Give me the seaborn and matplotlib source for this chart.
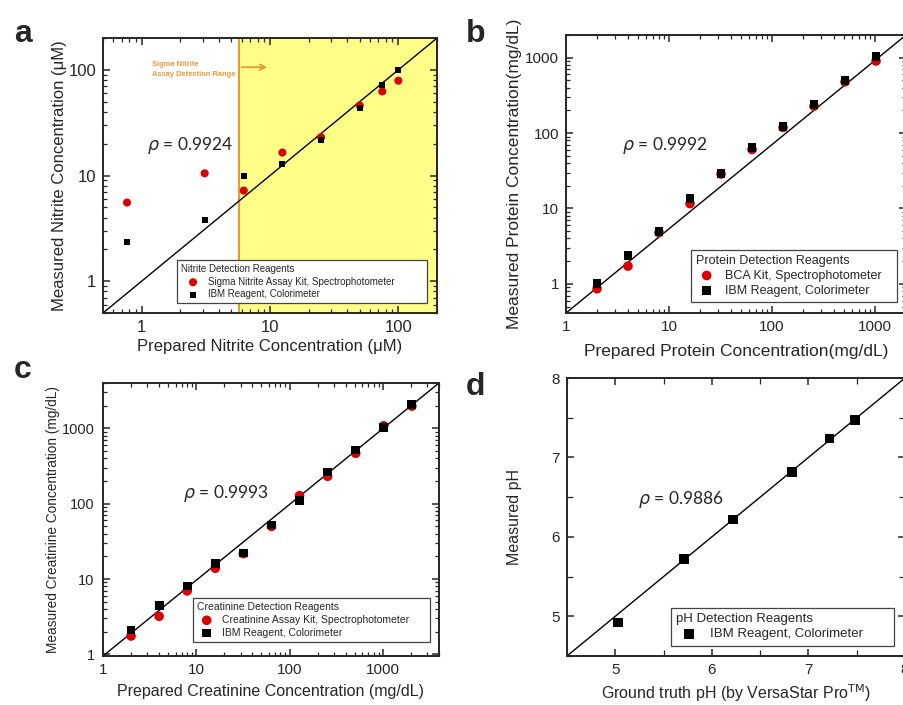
import matplotlib
matplotlib.use("Agg")
import matplotlib.pyplot as plt
import matplotlib.ticker as mticker
import seaborn as sns

# ---- data ----
# a: nitrite (uM)
nitrite_prepared = [0.77, 3.1, 6.25, 12.5, 25, 50, 75, 100]
nitrite_sigma = [5.55, 10.5, 7.2, 16.5, 23, 46, 62.5, 79]
nitrite_ibm = [2.37, 3.8, 9.9, 12.8, 21.6, 43.7, 72, 100]
nitrite_range_start = 5.74

# b: protein (mg/dL)
protein_prepared = [2, 4, 8, 16, 32, 64, 128, 256, 512, 1024]
protein_bca = [0.86, 1.72, 4.8, 11.6, 28.6, 60.7, 119, 228, 480, 904]
protein_ibm = [1.0, 2.4, 5.0, 13.7, 29.2, 64.5, 121, 240, 495, 1030]

# c: creatinine (mg/dL)
creat_prepared = [2, 4, 8, 16, 32, 64, 128, 256, 512, 1024, 2048]
creat_kit = [1.75, 3.2, 6.95, 13.9, 21.7, 49.9, 128, 231, 467, 1083, 1973]
creat_ibm = [2.1, 4.4, 8.1, 16, 22.1, 52, 110, 263, 516, 1030, 2075]

# d: pH
ph_truth = [5.03, 5.71, 6.22, 6.83, 7.22, 7.48]
ph_measured = [4.92, 5.72, 6.22, 6.82, 7.24, 7.47]

RED = "#dd0000"
ORANGE = "#e89a3a"
YELLOW = "#ffff88"

sns.set_style("ticks")
plt.rcParams["font.family"] = ["Liberation Sans", "DejaVu Sans"]
plt.rcParams["axes.linewidth"] = 1.4
plt.rcParams["legend.fancybox"] = False

fig = plt.figure(figsize=(9.04, 7.05), dpi=100)
ax_a = fig.add_axes([0.1139, 0.556, 0.3695, 0.390])
ax_b = fig.add_axes([0.6261, 0.556, 0.3761, 0.3943])
ax_c = fig.add_axes([0.1139, 0.0695, 0.3717, 0.3872])
ax_d = fig.add_axes([0.6272, 0.0695, 0.3739, 0.3943])


def style(ax, log=True, tick_size=11):
    if log:
        ax.set_xscale("log")
        ax.set_yscale("log")
        fmt = mticker.FuncFormatter(lambda v, p: f"{v:g}")
        ax.xaxis.set_major_formatter(fmt)
        ax.yaxis.set_major_formatter(fmt)
        ax.xaxis.set_minor_formatter(mticker.NullFormatter())
        ax.yaxis.set_minor_formatter(mticker.NullFormatter())
    ax.tick_params(which="both", direction="in", top=True, right=True,
                   labelsize=tick_size, pad=5)
    ax.tick_params(which="major", length=5, width=1.1)
    ax.tick_params(which="minor", length=3, width=0.9)
    # diagonal reference line across the frame
    ax.plot([0, 1], [0, 1], transform=ax.transAxes, color="black", lw=1, zorder=2)


def add_legend(ax, title, size, box, hl, htp):
    # box = (x0, y0, width) in axes fraction; frame stretched to that width
    leg = ax.legend(title=title, loc="lower left", bbox_to_anchor=(box[0], box[1], box[2], 0),
                    mode="expand", borderaxespad=0, fontsize=size, title_fontsize=size,
                    alignment="left", handlelength=hl, handletextpad=htp,
                    labelspacing=0.25, borderpad=0.4, frameon=True,
                    framealpha=1, edgecolor="#444444")
    leg.get_frame().set_linewidth(0.9)
    leg.set_zorder(5)


def rho(ax, x, y, txt, size=12.5):
    ax.text(x, y, r"$\rho$ = " + txt, transform=ax.transAxes, fontsize=size,
            family=["Lato", "DejaVu Sans"], va="center", ha="left", zorder=6)


# ---- a ----
ax = ax_a
ax.axvspan(nitrite_range_start, 200, color=YELLOW, zorder=0, lw=0)
ax.axvline(nitrite_range_start, color=ORANGE, lw=1.5, zorder=1)
ax.annotate("", xy=(10, 106), xytext=(nitrite_range_start, 106),
            arrowprops=dict(arrowstyle="->", color=ORANGE, lw=1.3))
ax.text(0.146, 0.884, "Sigma Nitrite\nAssay Detection Range", transform=ax.transAxes,
        color=ORANGE, fontsize=5.4, fontweight="bold", va="center", ha="left",
        linespacing=1.6)
sns.scatterplot(x=nitrite_prepared, y=nitrite_sigma, ax=ax, color=RED, marker="o",
                s=34, edgecolor="none", label="Sigma Nitrite Assay Kit, Spectrophotometer",
                zorder=3)
sns.scatterplot(x=nitrite_prepared, y=nitrite_ibm, ax=ax, color="black", marker="s",
                s=18, edgecolor="none", label="IBM Reagent, Colorimeter", zorder=4)
style(ax, tick_size=12)
ax.set_xlim(0.5, 200)
ax.set_ylim(0.5, 200)
ax.set_xlabel("Prepared Nitrite Concentration (μM)", fontsize=12, labelpad=3)
ax.set_ylabel("Measured Nitrite Concentration (μM)", fontsize=12, labelpad=1)
add_legend(ax, "Nitrite Detection Reagents", 7, (0.2216, 0.036, 0.7485), 2.5, 0.25)
rho(ax, 0.132, 0.611, "0.9924")

# ---- b ----
ax = ax_b
sns.scatterplot(x=protein_prepared, y=protein_bca, ax=ax, color=RED, marker="o",
                s=48, edgecolor="none", label="BCA Kit, Spectrophotometer", zorder=3)
sns.scatterplot(x=protein_prepared, y=protein_ibm, ax=ax, color="black", marker="s",
                s=40, edgecolor="none", label="IBM Reagent, Colorimeter", zorder=4)
style(ax, tick_size=11)
ax.set_xlim(1, 2000)
ax.set_ylim(0.41, 2000)
ax.set_xlabel("Prepared Protein Concentration(mg/dL)", fontsize=12.5, labelpad=7)
ax.set_ylabel("Measured Protein Concentration(mg/dL)", fontsize=12.5, labelpad=2)
add_legend(ax, "Protein Detection Reagents", 9, (0.3668, 0.04, 0.6068), 1.76, 0.56)
rho(ax, 0.164, 0.604, "0.9992")

# ---- c ----
ax = ax_c
sns.scatterplot(x=creat_prepared, y=creat_kit, ax=ax, color=RED, marker="o",
                s=48, edgecolor="none", label="Creatinine Assay Kit, Spectrophotometer",
                zorder=3)
sns.scatterplot(x=creat_prepared, y=creat_ibm, ax=ax, color="black", marker="s",
                s=40, edgecolor="none", label="IBM Reagent, Colorimeter", zorder=4)
style(ax, tick_size=11)
ax.tick_params(axis="y", labelsize=10.5, pad=6)
ax.set_xlim(1, 4000)
ax.set_ylim(0.95, 4000)
ax.set_xlabel("Prepared Creatinine Concentration (mg/dL)", fontsize=11.5, labelpad=5)
ax.set_ylabel("Measured Creatinine Concentration (mg/dL)", fontsize=9.8, labelpad=1)
add_legend(ax, "Creatinine Detection Reagents", 7.5, (0.268, 0.052, 0.705), 1.83, 0.53)
rho(ax, 0.237, 0.596, "0.9993")

# ---- d ----
ax = ax_d
sns.scatterplot(x=ph_truth, y=ph_measured, ax=ax, color="black", marker="s",
                s=48, edgecolor="none", label="IBM Reagent, Colorimeter", zorder=4)
style(ax, log=False, tick_size=11)
ax.set_xlim(4.5, 8)
ax.set_ylim(4.5, 8)
ax.xaxis.set_major_locator(mticker.MultipleLocator(1))
ax.xaxis.set_minor_locator(mticker.MultipleLocator(0.5))
ax.yaxis.set_major_locator(mticker.MultipleLocator(1))
ax.yaxis.set_minor_locator(mticker.MultipleLocator(0.5))
ax.tick_params(which="minor", length=4)
ax.set_xlabel(r"Ground truth pH (by VersaStar Pro$^{\mathrm{TM}}$)", fontsize=11.5,
              labelpad=4)
ax.set_ylabel("Measured pH", fontsize=11.5, labelpad=21)
add_legend(ax, "pH Detection Reagents", 9.5, (0.3077, 0.037, 0.66), 1.97, 0.58)
rho(ax, 0.21, 0.564, "0.9886")

# panel letters
for x, y, t in [(0.0155, 0.9404, "a"), (0.5155, 0.9404, "b"),
                (0.0155, 0.4638, "c"), (0.5155, 0.4397, "d")]:
    fig.text(x, y, t, fontsize=23, fontweight="bold", va="baseline", ha="left")

fig.savefig("out.png", dpi=100)
